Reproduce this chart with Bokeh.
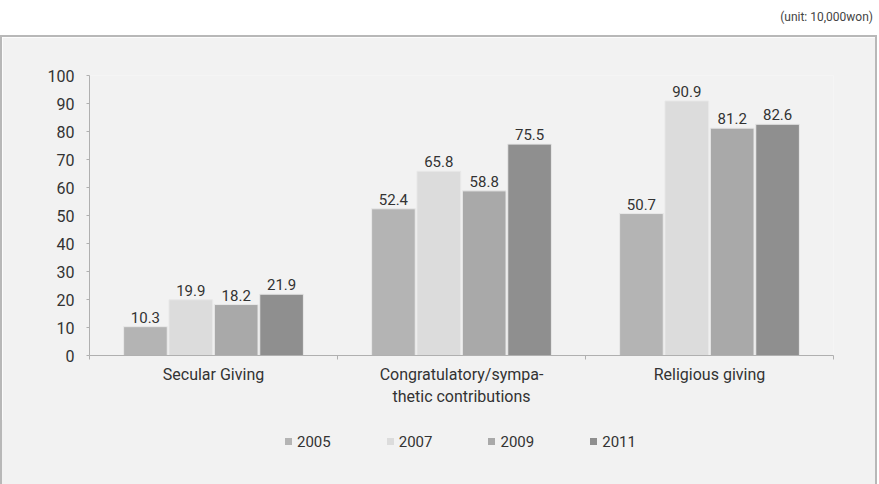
from bokeh.plotting import figure
from bokeh.models import (ColumnDataSource, Range1d, FixedTicker, LabelSet, Div, LinearAxis)
from bokeh.layouts import column
from bokeh.embed import file_html
from bokeh.resources import INLINE
from bokeh.core.properties import value

categories = ["Secular Giving", "Congratulatory/sympa-\nthetic contributions", "Religious giving"]
years = ["2005", "2007", "2009", "2011"]
v2005 = [10.3, 52.4, 50.7]
v2007 = [19.9, 65.8, 90.9]
v2009 = [18.2, 58.8, 81.2]
v2011 = [21.9, 75.5, 82.6]
colors = ["#b4b4b4", "#dcdcdc", "#a9a9a9", "#8f8f8f"]
y_ticks = [0, 10, 20, 30, 40, 50, 60, 70, 80, 90, 100]

FONT = "Roboto"
TXT = "#333333"
BG = "#f2f2f2"
BORDER = "2px solid #b8b8b8"

p = figure(frame_width=740, frame_height=278, output_backend="svg", toolbar_location=None,
           x_range=Range1d(0, 3), y_range=Range1d(0, 100),
           min_border_left=87, min_border_right=46, min_border_top=38, min_border_bottom=67,
           background_fill_color=BG, border_fill_color=BG, outline_line_color=None,
           x_axis_type=None, margin=0)
p.styles = {"border-top": BORDER, "border-left": BORDER, "border-right": BORDER}
p.grid.visible = False

step = 0.183
bw = 0.176
series = [v2005, v2007, v2009, v2011]
for i, (yr, vals, c) in enumerate(zip(years, series, colors)):
    xs = [k + 0.5 + (i - 1.5) * step for k in range(len(categories))]
    src = ColumnDataSource(dict(x=xs, top=vals, lab=[f"{v:.1f}" for v in vals]))
    p.vbar(x="x", top="top", width=bw, source=src, fill_color=c,
           line_color="#e8e8e8", line_width=1)
    lbl = LabelSet(x="x", y="top", text="lab", source=src, text_align="center",
                   text_baseline="bottom", y_offset=4, text_font=value(FONT),
                   text_font_size="15px", text_color=TXT)
    p.add_layout(lbl)

# y axis
p.yaxis.ticker = FixedTicker(ticks=y_ticks)
p.yaxis.axis_line_color = "#b0b0b0"
p.yaxis.major_tick_line_color = "#b0b0b0"
p.yaxis.major_tick_out = 3
p.yaxis.major_tick_in = 0
p.yaxis.minor_tick_line_color = None
p.yaxis.major_label_standoff = 12
p.yaxis.major_label_text_font = FONT
p.yaxis.major_label_text_font_size = "16px"
p.yaxis.major_label_text_color = TXT

# x axis: labels at category centres, small ticks at boundaries
xa = LinearAxis(ticker=FixedTicker(ticks=[0.5, 1.5, 2.5], minor_ticks=[0, 1, 2, 3]))
xa.major_label_overrides = {0.5: categories[0], 1.5: categories[1], 2.5: categories[2]}
xa.axis_line_color = "#b0b0b0"
xa.major_tick_line_color = None
xa.major_tick_out = 0
xa.minor_tick_line_color = "#b0b0b0"
xa.minor_tick_out = 4
xa.minor_tick_in = 0
xa.major_label_standoff = 5
xa.major_label_text_font = FONT
xa.major_label_text_font_size = "16px"
xa.major_label_text_color = TXT
p.add_layout(xa, "below")

# legend strip (continuation of the grey panel), built from years / colors
entries = "".join(
    f'<span style="display:inline-block;margin-right:56px;white-space:nowrap;">'
    f'<span style="display:inline-block;width:7px;height:7px;background:{c};'
    f'vertical-align:middle;margin-right:5px;position:relative;top:-1px;"></span>'
    f'<span style="vertical-align:middle;">{yr}</span></span>'
    for yr, c in zip(years, colors))
leg = Div(text=entries, width=877, height=64, margin=0,
          styles={"background": BG, "border-left": BORDER, "border-right": BORDER,
                  "box-sizing": "border-box", "padding-left": "283px", "padding-top": "12px",
                  "font-family": FONT, "font-size": "15px", "color": TXT,
                  "line-height": "18px", "white-space": "nowrap"})

unit = Div(text="(unit: 10,000won)", width=877, height=35, margin=0,
           styles={"text-align": "right", "font-family": "Roboto", "font-size": "12px",
                   "color": "#444444", "padding-top": "10px", "box-sizing": "border-box",
                   "padding-right": "4px", "line-height": "14px"})

layout = column(unit, p, leg, spacing=0)
open("out.html", "w").write(file_html(layout, INLINE))
